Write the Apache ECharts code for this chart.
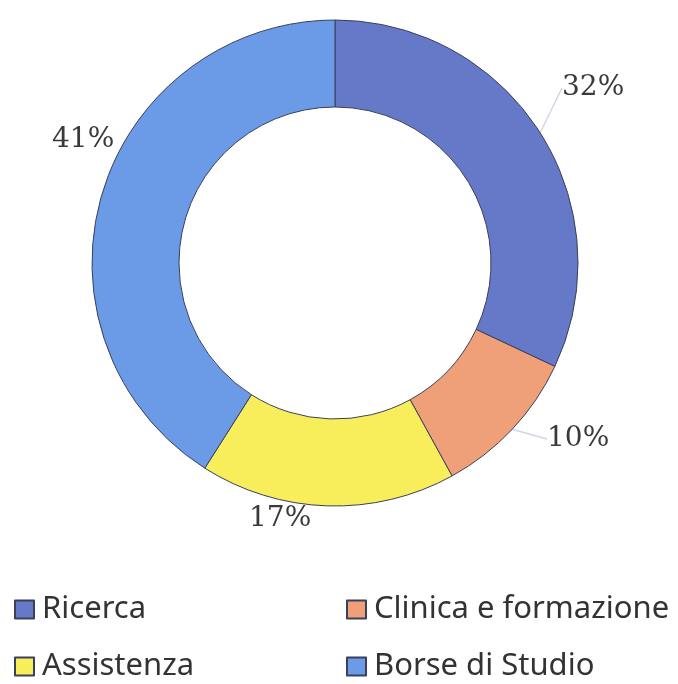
<!DOCTYPE html>
<html>
<head>
<meta charset="utf-8">
<script src="https://cdn.jsdelivr.net/npm/echarts@6/dist/echarts.min.js"></script>
<style>html,body{margin:0;padding:0;background:#fff}#c{width:678px;height:684px}</style>
</head>
<body>
<div id="c"></div>
<script>
const categories = ['Ricerca', 'Clinica e formazione', 'Assistenza', 'Borse di Studio'];
const values = [32, 10, 17, 41];
const colors = ['#6678c8', '#f0a078', '#f8ee5c', '#6b9ae6'];
// legend grid: 2 columns x 2 rows (row-major order of categories)
const legendCols = [14, 346];
const legendRows = [594, 651];
// label placement (absolute px) and whether to show leader lines
const labelPos = [[562, 74], [547, 425], [249, 505], [52, 126]];
const showLine = [true, true, false, false];

const chart = echarts.init(document.getElementById('c'));
const legendText = { fontFamily: 'Noto Sans', fontSize: 31, color: '#333', padding: [0, 0, 0, 3] };
const legends = categories.map((n, i) => ({
  data: [n], left: legendCols[i % 2], top: legendRows[Math.floor(i / 2)],
  orient: 'horizontal', itemWidth: 19, itemHeight: 18, textStyle: legendText,
  icon: 'rect', selectedMode: false, padding: 0
}));
chart.setOption({
  animation: false,
  color: colors,
  legend: legends,
  series: [{
    type: 'pie',
    center: [335, 263],
    radius: [156, 243],
    startAngle: 90,
    clockwise: true,
    data: categories.map((n, i) => ({ name: n, value: values[i],
      labelLine: { show: showLine[i] } })),
    itemStyle: { borderColor: '#3a3f5a', borderWidth: 1 },
    label: {
      show: true, position: 'outside',
      formatter: p => p.value + '%',
      fontFamily: 'DejaVu Serif', fontSize: 28, color: '#3a3a3a'
    },
    labelLine: { show: true, length: 6, length2: 0, lineStyle: { color: '#cfd6ea', width: 1.5 } },
    labelLayout: p => ({ x: labelPos[p.dataIndex][0], y: labelPos[p.dataIndex][1], align: 'left', verticalAlign: 'top' })
  }]
});
</script>
</body>
</html>
